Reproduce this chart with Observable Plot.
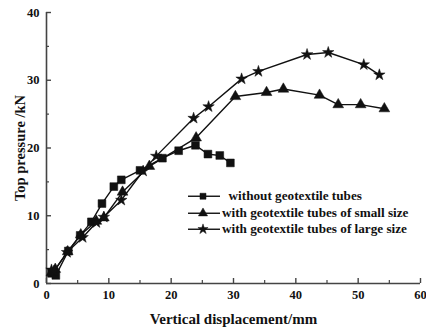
<!DOCTYPE html>
<html><head><meta charset="utf-8">
<script src="https://cdn.jsdelivr.net/npm/d3@7"></script>
<script src="https://cdn.jsdelivr.net/npm/@observablehq/plot@0.6"></script>
<style>
body{margin:0;background:#fff;font-family:"Liberation Serif","Times New Roman",serif}
#wrap{position:relative;width:426px;height:332px}
.leg{position:absolute;left:186px;top:188px;font-weight:bold;font-size:13.2px;color:#111}
.row{display:flex;align-items:center;height:16.5px;white-space:pre}
</style>
</head><body><div id="wrap"></div>
<script>
const seriesNames = ["without geotextile tubes", "with geotextile tubes of small size", "with geotextile tubes of large size"];
const seriesSymbols = ["square", "triangle", "star"];

const xNone = [0.8, 1.5, 3.5, 5.4, 7.2, 8.9, 10.8, 12.0, 15.0, 18.6, 21.2, 23.9, 25.9, 27.8, 29.5];
const yNone = [1.5, 1.2, 4.8, 7.1, 9.1, 11.8, 14.3, 15.3, 16.7, 18.5, 19.6, 20.4, 19.1, 18.9, 17.8];

const xSmall = [0.8, 1.4, 3.4, 5.5, 8.0, 9.2, 12.2, 16.5, 24.0, 30.3, 35.3, 38.0, 43.8, 46.8, 50.4, 54.2];
const ySmall = [1.6, 2.1, 4.7, 7.2, 9.2, 9.7, 13.5, 17.3, 21.5, 27.6, 28.2, 28.7, 27.8, 26.4, 26.4, 25.8];

const xLarge = [0.8, 1.2, 3.3, 5.8, 8.0, 9.2, 12.0, 15.5, 17.6, 23.6, 26.0, 31.3, 34.0, 41.8, 45.2, 50.9, 53.4];
const yLarge = [2.0, 1.8, 4.6, 6.8, 9.0, 9.8, 12.3, 16.6, 18.8, 24.4, 26.1, 30.2, 31.3, 33.8, 34.1, 32.3, 30.8];

const xTicks = [0, 10, 20, 30, 40, 50, 60];
const xMinor = [5, 15, 25, 35, 45, 55];
const yTicks = [0, 10, 20, 30, 40];
const yMinor = [5, 15, 25, 35];
const xLabel = "Vertical displacement/mm";
const yLabel = "Top pressure /kN";

const toRows = (xs, ys, s) => xs.map((x, i) => ({x, y: ys[i], s}));
const dNone = toRows(xNone, yNone, seriesNames[0]);
const dSmall = toRows(xSmall, ySmall, seriesNames[1]);
const dLarge = toRows(xLarge, yLarge, seriesNames[2]);
const data = [...dNone, ...dSmall, ...dLarge];

const ink = "#111";
const plot = Plot.plot({
  width: 426, height: 332,
  marginLeft: 46, marginRight: 6, marginTop: 12, marginBottom: 49,
  style: {fontFamily: "Liberation Serif, Times New Roman, serif", fontWeight: "bold", fontSize: "12.5px", color: ink, background: "#fff"},
  x: {domain: [0, 60]},
  y: {domain: [0, 40]},
  symbol: {domain: seriesNames, range: seriesSymbols},
  marks: [
    Plot.ruleX([0], {stroke: "#444", strokeWidth: 1.6}),
    Plot.ruleY([0], {stroke: "#444", strokeWidth: 1.6}),
    Plot.axisX({ticks: xTicks, tickSize: -5, tickPadding: 12, stroke: "#444", strokeWidth: 1.4, label: null, tickFormat: d => d}),
    Plot.axisX({ticks: xMinor, tickSize: -3, stroke: "#444", strokeWidth: 1.2, text: null, label: null}),
    Plot.axisY({ticks: yTicks, tickSize: -5, tickPadding: 12, stroke: "#444", strokeWidth: 1.4, label: null}),
    Plot.axisY({ticks: yMinor, tickSize: -3, stroke: "#444", strokeWidth: 1.2, text: null, label: null}),
    Plot.line(data, {x: "x", y: "y", z: "s", stroke: ink, strokeWidth: 1.4}),
    Plot.dot(dNone, {x: "x", y: "y", symbol: "s", fill: ink, stroke: ink, strokeWidth: 0.5, r: 4.4}),
    Plot.dot(dSmall, {x: "x", y: "y", symbol: "s", fill: ink, stroke: ink, strokeWidth: 0.5, r: 4.0}),
    Plot.dot(dLarge, {x: "x", y: "y", symbol: "s", fill: ink, stroke: ink, strokeWidth: 0.5, r: 3.6}),
    Plot.text([xLabel], {frameAnchor: "bottom", dy: 40, fontSize: 15, fontWeight: "bold", fill: ink}),
    Plot.text([yLabel], {frameAnchor: "left", textAnchor: "middle", dx: -26, rotate: -90, fontSize: 14.5, fontWeight: "bold", fill: ink})
  ]
});
const wrap = document.getElementById("wrap");
wrap.appendChild(plot);

// legend overlay
const legR = [3.4, 3.4, 3.2];
const leg = document.createElement("div");
leg.className = "leg";
seriesNames.forEach((name, i) => {
  const row = document.createElement("div");
  row.className = "row";
  const svg = d3.create("svg").attr("width", 36).attr("height", 16.5);
  svg.append("line").attr("x1", 2).attr("x2", 34).attr("y1", 8.25).attr("y2", 8.25).attr("stroke", ink).attr("stroke-width", 1.4);
  const sym = {square: d3.symbolSquare, triangle: d3.symbolTriangle, star: d3.symbolStar}[seriesSymbols[i]];
  svg.append("path").attr("d", d3.symbol(sym, legR[i] * legR[i] * Math.PI)()).attr("transform", "translate(17,8.25)").attr("fill", ink).attr("stroke", ink).attr("stroke-width", 0.5);
  row.appendChild(svg.node());
  const t = document.createElement("span");
  t.textContent = (i === 0 ? "  " : "") + name;
  row.appendChild(t);
  leg.appendChild(row);
});
wrap.appendChild(leg);
</script>
</body></html>
